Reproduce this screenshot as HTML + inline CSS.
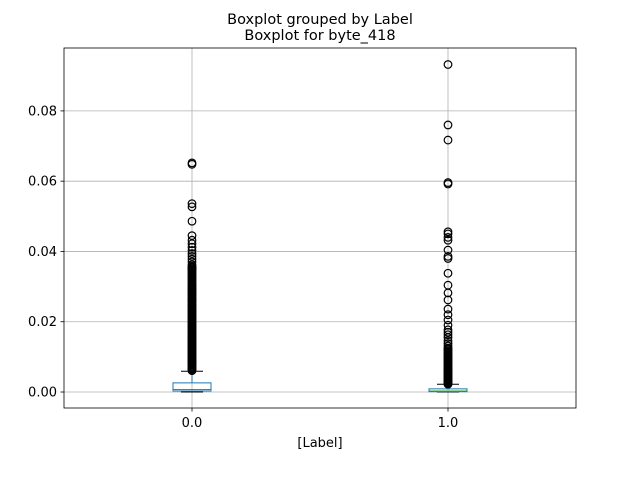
<!DOCTYPE html>
<html><head><meta charset="utf-8"><style>
body{margin:0;background:#fff}
svg text{font-family:"DejaVu Sans","Liberation Sans",sans-serif;fill:#000}
</style></head><body>
<svg id="c" width="640" height="480" viewBox="0 0 640 480" xmlns="http://www.w3.org/2000/svg">
<text x="320" y="24" font-size="14.5" text-anchor="middle">Boxplot grouped by Label</text>
<text x="320" y="40" font-size="14.5" text-anchor="middle">Boxplot for byte_418</text>
<text x="320" y="447" font-size="13" text-anchor="middle">[Label]</text>
</svg>
<script>
const categories = ["0.0", "1.0"];
const yTicks = [0.00, 0.02, 0.04, 0.06, 0.08];
const q1 = [0.0003, 0.0001];
const medians = [0.0007, 0.0003];
const q3 = [0.0026, 0.0009];
const whiskLow = [0.0, 0.0];
const whiskHigh = [0.0059, 0.0022];
const outliers0 = [0.0061,0.0063,0.0066,0.0068,0.0071,0.0074,0.0077,0.0079,0.0081,0.0084,0.0086,0.0088,0.0090,0.0093,0.0095,0.0098,0.0101,0.0103,0.0106,0.0108,0.0110,0.0113,0.0116,0.0118,0.0121,0.0123,0.0126,0.0128,0.0131,0.0134,0.0137,0.0139,0.0142,0.0145,0.0148,0.0150,0.0152,0.0155,0.0158,0.0160,0.0163,0.0166,0.0169,0.0171,0.0174,0.0177,0.0179,0.0182,0.0185,0.0187,0.0190,0.0193,0.0196,0.0198,0.0201,0.0204,0.0207,0.0209,0.0212,0.0215,0.0218,0.0220,0.0223,0.0226,0.0229,0.0231,0.0234,0.0237,0.0240,0.0243,0.0246,0.0248,0.0251,0.0254,0.0257,0.0260,0.0262,0.0265,0.0268,0.0271,0.0274,0.0277,0.0280,0.0283,0.0286,0.0289,0.0292,0.0295,0.0298,0.0301,0.0304,0.0307,0.0311,0.0314,0.0318,0.0321,0.0325,0.0328,0.0331,0.0334,0.0338,0.0341,0.0344,0.0347,0.0350,0.0353,0.0355,0.0358,0.0362,0.0370,0.0378,0.0386,0.0394,0.0403,0.0412,0.0422,0.0432,0.0445,0.0486,0.0527,0.0536,0.0648,0.0652];
const outliers1 = [0.0022,0.0024,0.0026,0.0028,0.0030,0.0032,0.0034,0.0036,0.0039,0.0041,0.0044,0.0046,0.0049,0.0051,0.0054,0.0056,0.0059,0.0061,0.0064,0.0066,0.0069,0.0071,0.0074,0.0077,0.0080,0.0082,0.0085,0.0088,0.0091,0.0094,0.0097,0.0100,0.0103,0.0106,0.0109,0.0112,0.0115,0.0118,0.0122,0.0125,0.0131,0.0138,0.0146,0.0155,0.0163,0.0170,0.0177,0.0190,0.0205,0.0220,0.0236,0.0262,0.0282,0.0304,0.0338,0.0380,0.0386,0.0404,0.0432,0.0440,0.0450,0.0456,0.0592,0.0596,0.0717,0.0760,0.0932];
const outliers = [outliers0, outliers1];

const NS = "http://www.w3.org/2000/svg";
const svg = document.getElementById('c');
const L = 64, R = 576, T = 48, B = 408;
const yMin = -0.00455, yMax = 0.0979;
const y = v => B - (v - yMin) / (yMax - yMin) * (B - T);
const x = i => L + (i + 0.5) * (R - L) / categories.length;
function mk(tag, attrs) { const e = document.createElementNS(NS, tag); for (const k in attrs) e.setAttribute(k, attrs[k]); svg.appendChild(e); return e; }

yTicks.forEach(t => {
  const g = mk('line', {x1:L, x2:R, y1:y(t), y2:y(t), stroke:'#b0b0b0', 'stroke-width':0.8});
  
  
  const tk = mk('line', {x1:L-3.5, x2:L, y1:y(t), y2:y(t), stroke:'#000', 'stroke-width':0.8});
  
  
  const tx = mk('text', {x:L-7, y:y(t)+4.5, 'font-size':13, 'text-anchor':'end'});
  tx.textContent = t.toFixed(2);
  
  
});
categories.forEach((c, i) => {
  const g = mk('line', {x1:x(i), x2:x(i), y1:T, y2:B, stroke:'#b0b0b0', 'stroke-width':0.8});
  
  
  const tk = mk('line', {x1:x(i), x2:x(i), y1:B, y2:B+3.5, stroke:'#000', 'stroke-width':0.8});
  
  
  const tx = mk('text', {x:x(i), y:B+19, 'font-size':13, 'text-anchor':'middle'});
  tx.textContent = c;
  
  
});
categories.forEach((c, i) => {
  const cx = x(i), hw = 19, cw = 11;
  const w1 = mk('line', {x1:cx, x2:cx, y1:y(q3[i]), y2:y(whiskHigh[i]), stroke:'#1f77b4', 'stroke-width':1});
  
  
  const w2 = mk('line', {x1:cx, x2:cx, y1:y(q1[i]), y2:y(whiskLow[i]), stroke:'#1f77b4', 'stroke-width':1});
  
  
  const c1 = mk('line', {x1:cx-cw, x2:cx+cw, y1:y(whiskHigh[i]), y2:y(whiskHigh[i]), stroke:'#000', 'stroke-width':1});
  
  
  const c2 = mk('line', {x1:cx-cw, x2:cx+cw, y1:y(whiskLow[i]), y2:y(whiskLow[i]), stroke:'#000', 'stroke-width':1});
  
  
  outliers[i].forEach(v => {
    const o = mk('circle', {cx:cx, cy:y(v), r:3.8, fill:'none', stroke:'#000', 'stroke-width':1.2});
    
    
  });
  const bx = mk('rect', {x:cx-hw, y:y(q3[i]), width:2*hw, height:Math.max(1, y(q1[i])-y(q3[i])), fill:'none', stroke:'#1f77b4', 'stroke-width':1});
  
  
  const md = mk('line', {x1:cx-hw, x2:cx+hw, y1:y(medians[i]), y2:y(medians[i]), stroke:'#2ca02c', 'stroke-width':1});
  
  
});
const fr = mk('rect', {x:L, y:T, width:R-L, height:B-T, fill:'none', stroke:'#000', 'stroke-width':0.8});


</script>
</body></html>
